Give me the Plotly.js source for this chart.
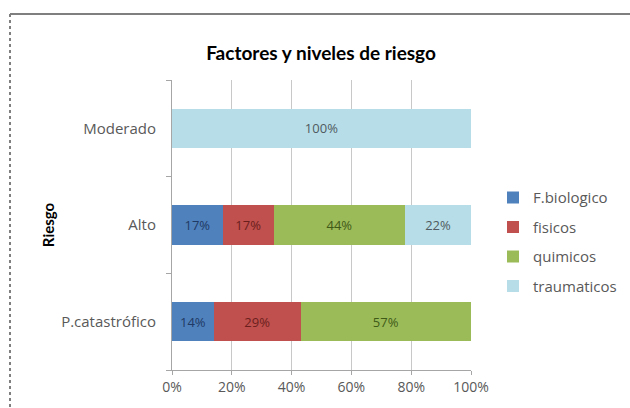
<!DOCTYPE html>
<html>
<head>
<meta charset="utf-8">
<script src="https://cdn.plot.ly/plotly-3.0.1.min.js"></script>
<style>
  html, body { margin: 0; padding: 0; background: #fff; }
  #chart { width: 630px; height: 408px; }
</style>
</head>
<body>
<div id="chart"></div>
<script>
// Data
const categories = ['P.catastrófico', 'Alto', 'Moderado'];
const seriesNames = ['F.biologico', 'fisicos', 'quimicos', 'traumaticos'];
const fBiologico = [14, 17, null];
const fisicos = [29, 17, null];
const quimicos = [57, 44, null];
const traumaticos = [null, 22, 100];
const xTickVals = [0, 20, 40, 60, 80, 100];
const xTickText = ['0%', '20%', '40%', '60%', '80%', '100%'];

const seriesValues = [fBiologico, fisicos, quimicos, traumaticos];
const fillColors = ['#4F81BD', '#C0504D', '#9BBB59', '#B7DEE8'];
const textColors = ['#1F3A64', '#6B1F1D', '#3F5A17', '#505a60'];

const FONT = '"Open Sans", "Liberation Sans", sans-serif';
const TFONT = 'Lato, "Open Sans", sans-serif';

const traces = seriesValues.map((vals, i) => ({
  type: 'bar',
  orientation: 'h',
  name: seriesNames[i],
  legendgroup: seriesNames[i],
  y: categories,
  x: vals,
  marker: { color: fillColors[i], line: { width: 0 } },
  text: vals.map(v => (v === null ? '' : v + '%')),
  textposition: 'inside',
  insidetextanchor: 'middle',
  textangle: 0,
  textfont: { family: FONT, size: 13, color: textColors[i] },
  constraintext: 'none',
  hoverinfo: 'x+y+name'
}));

const layout = {
  width: 630,
  height: 408,
  paper_bgcolor: '#ffffff',
  plot_bgcolor: '#ffffff',
  margin: { l: 172, r: 159, t: 80, b: 38, autoexpand: false },
  barmode: 'stack',
  bargap: 0.59,
  font: { family: FONT, size: 13, color: '#595959' },
  title: {
    text: '<b>Factores y niveles de riesgo</b>',
    font: { family: TFONT, size: 19, color: '#000000' },
    x: 321 / 630, xanchor: 'center',
    y: 1 - 53 / 408, yanchor: 'middle'
  },
  xaxis: {
    range: [0, 100],
    tickvals: xTickVals,
    ticktext: xTickText,
    showgrid: true,
    gridcolor: '#C8C8C8',
    gridwidth: 1,
    zeroline: false,
    showline: true,
    linecolor: '#A6A6A6',
    ticks: 'outside',
    ticklen: 4,
    tickcolor: '#A6A6A6',
    tickfont: { family: FONT, size: 14, color: '#595959' },
    automargin: false,
    fixedrange: true
  },
  yaxis: {
    type: 'category',
    categoryorder: 'array',
    categoryarray: categories,
    showgrid: false,
    showline: true,
    linecolor: '#A6A6A6',
    ticks: 'outside',
    tickson: 'boundaries',
    ticklen: 5,
    tickcolor: '#A6A6A6',
    ticklabelstandoff: 12,
    tickfont: { family: FONT, size: 15, color: '#595959' },
    title: {
      text: '<b>Riesgo</b>',
      font: { family: TFONT, size: 15, color: '#000000' },
      standoff: 2
    },
    automargin: false,
    fixedrange: true
  },
  legend: {
    x: (493 - 172) / 299, xanchor: 'left',
    y: 0.651, yanchor: 'top',
    traceorder: 'grouped',
    tracegroupgap: 7,
    font: { family: FONT, size: 15, color: '#595959' },
    bgcolor: 'rgba(0,0,0,0)'
  },
  shapes: [
    {
      type: 'line', xref: 'paper', yref: 'paper',
      x0: -0.5418, x1: 1.7, y0: 1.2276, y1: 1.2276,
      line: { color: '#7F7F7F', width: 2 }
    },
    {
      type: 'line', xref: 'paper', yref: 'paper',
      x0: -0.5418, x1: -0.5418, y0: 1.2276, y1: -0.3,
      line: { color: '#7F7F7F', width: 2, dash: 'dot' }
    }
  ],
  showlegend: true
};

Plotly.newPlot('chart', traces, layout, { displayModeBar: false, staticPlot: true });
</script>
</body>
</html>
